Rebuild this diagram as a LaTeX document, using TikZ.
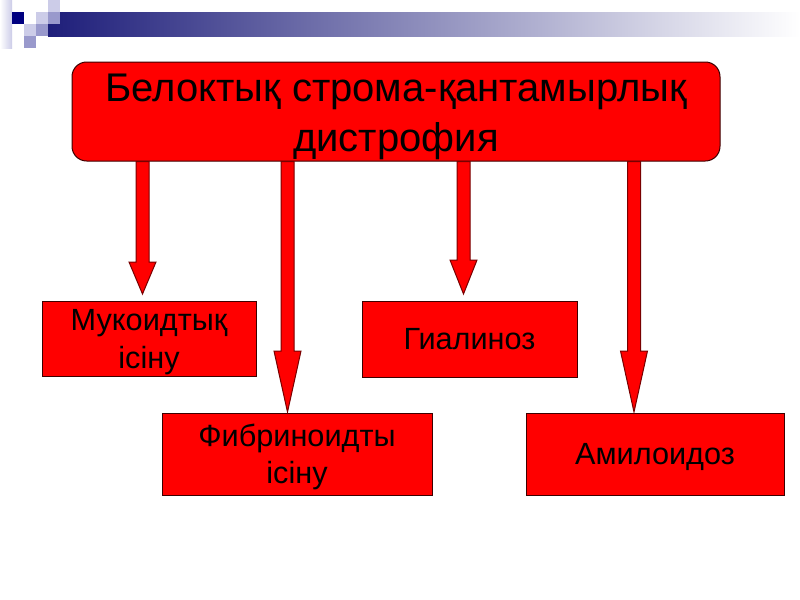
\documentclass[tikz,border=0pt]{standalone}
\usepackage{fontspec}
\setmainfont{Liberation Sans}
\usetikzlibrary{calc}
\definecolor{slidered}{RGB}{255,0,0}
\definecolor{boxedge}{RGB}{60,0,0}
\definecolor{arrowedge}{RGB}{120,0,0}
\definecolor{barnavy}{RGB}{30,30,122}
\definecolor{navysq}{RGB}{0,0,128}
\definecolor{midlav}{RGB}{153,153,204}
\definecolor{palelav}{RGB}{204,204,232}
% block arrow: start, tip, head length (px)
\newcommand{\blockarrow}[3]{%
  \draw[arrowblock] ($(#1)+(-6.5,0)$) -- ($(#2)+(-6.5,-#3)$) -- ($(#2)+(-13.5,-#3)$)
    -- (#2) -- ($(#2)+(13.5,-#3)$) -- ($(#2)+(6.5,-#3)$) -- ($(#1)+(6.5,0)$) -- cycle;}

\begin{document}
\begin{tikzpicture}[
        x=0.75pt, y=-0.75pt,
        box/.style 2 args={rectangle, draw=boxedge, line width=0.75pt, fill=slidered,
            text=black, minimum width=#1*0.75pt, minimum height=#2*0.75pt,
            inner sep=0pt, align=center, font=\fontsize{23}{28}\selectfont},
        twoline/.style={text height=49.3pt},
        topbox/.style={box={648}{99}, rounded corners=11pt, text height=65.5pt,
            font=\fontsize{30}{37.5}\selectfont},
        arrowblock/.style={draw=arrowedge, line width=0.75pt, fill=slidered,
            line join=miter}
    ]
        \useasboundingbox (0,0) rectangle (800,600);
        \fill[white] (0,0) rectangle (800,600);
        % slide decoration
        \shade[left color=white, right color=palelav] (0,0) rectangle (12,48);
        \shade[left color=barnavy, right color=white] (48,12) rectangle (800,36);
        \foreach \sx/\sy/\sc in {48/0/palelav, 12/12/navysq, 36/12/palelav, 48/12/midlav,
                24/24/palelav, 36/24/midlav, 24/36/midlav}
            \fill[\sc] (\sx,\sy) rectangle +(12,12);

        \node[topbox] (d) at (396,111.5) {Белоктық строма-қантамырлық\\дистрофия};
        \node[box={214}{75}, twoline] (m) at (149,338.5) {Мукоидтық\\ісіну};
        \node[box={215}{76}] (g) at (469.5,339) {Гиалиноз};
        \node[box={270}{82}, twoline] (f) at (297,454) {Фибриноидты\\ісіну};
        \node[box={258}{82}, text depth=0pt] (am) at (655,454) {Амилоидоз};

        \coordinate (t1) at (142.5,294);
        \coordinate (t2) at (287.5,412);
        \coordinate (t3) at (463.5,294);
        \coordinate (t4) at (634,412);
        \foreach \t/\h in {1/32, 2/61, 3/34, 4/61} {
            \coordinate (s\t) at (t\t |- d.south);
            \blockarrow{s\t}{t\t}{\h}
        }
    \end{tikzpicture}
\end{document}
